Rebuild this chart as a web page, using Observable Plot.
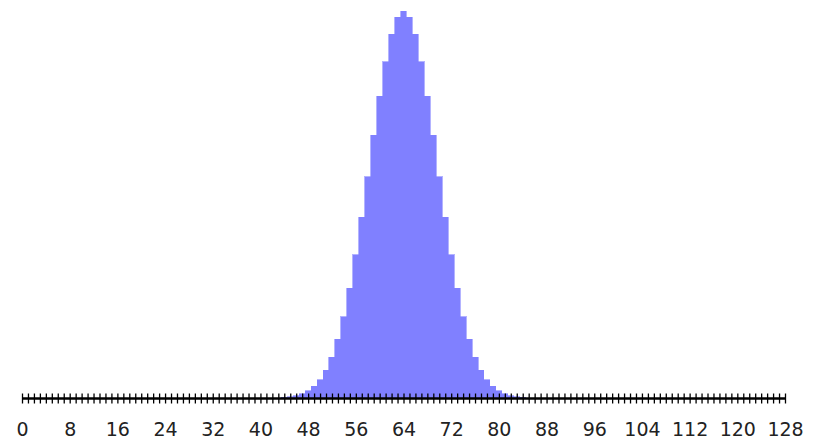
<!DOCTYPE html>
<html>
<head>
<meta charset="utf-8">
<script src="https://cdn.jsdelivr.net/npm/d3@7"></script>
<script src="https://cdn.jsdelivr.net/npm/@observablehq/plot@0.6"></script>
<style>
  html, body { margin: 0; padding: 0; background: #fff; }
  #chart svg { display: block; }
</style>
</head>
<body>
<div id="chart"></div>
<script>
// Visible bars (k = 44 .. 84), probabilities
const ks = [44,45,46,47,48,49,50,51,52,53,54,55,56,57,58,59,60,61,62,63,64,
            65,66,67,68,69,70,71,72,73,74,75,76,77,78,79,80,81,82,83,84];
const probs = [0.0001,0.0002,0.0004,0.0008,0.0013,0.0021,0.0033,0.0050,0.0074,0.0107,0.0148,
               0.0199,0.0260,0.0328,0.0402,0.0477,0.0548,0.0611,0.0661,0.0692,0.0703,
               0.0692,0.0661,0.0611,0.0548,0.0477,0.0402,0.0328,0.0260,0.0199,0.0148,
               0.0107,0.0074,0.0050,0.0033,0.0021,0.0013,0.0008,0.0004,0.0002,0.0001];
const minorTicks = d3.range(0, 129);
const labelTicks = [0,8,16,24,32,40,48,56,64,72,80,88,96,104,112,120,128];

const data = ks.map((k, i) => ({k, p: probs[i]}));

const chart = Plot.plot({
  width: 815,
  height: 442,
  marginLeft: 22,
  marginRight: 30,
  marginTop: 11,
  marginBottom: 44,
  x: {domain: [0, 128]},
  y: {domain: [0, 0.0703], axis: null},
  style: {background: "#fff"},
  marks: [
    Plot.rectY(data, {x1: d => d.k - 0.5, x2: d => d.k + 0.5, y: "p", fill: "#8080ff",
      stroke: "#8080ff", strokeWidth: 0.6, shapeRendering: "crispEdges"}),
    Plot.ruleY([0], {stroke: "#000", strokeWidth: 2.5}),
    Plot.axisX({ticks: minorTicks, tickSize: 10, dy: -4.5, tickFormat: () => "", stroke: "#000", strokeWidth: 1.3, strokeOpacity: 1}),
    Plot.axisX({ticks: labelTicks, tickSize: 0, tickPadding: 24, fontSize: 19, fontFamily: "DejaVu Sans, sans-serif", fill: "#222"})
  ]
});
document.getElementById("chart").appendChild(chart);
</script>
</body>
</html>
